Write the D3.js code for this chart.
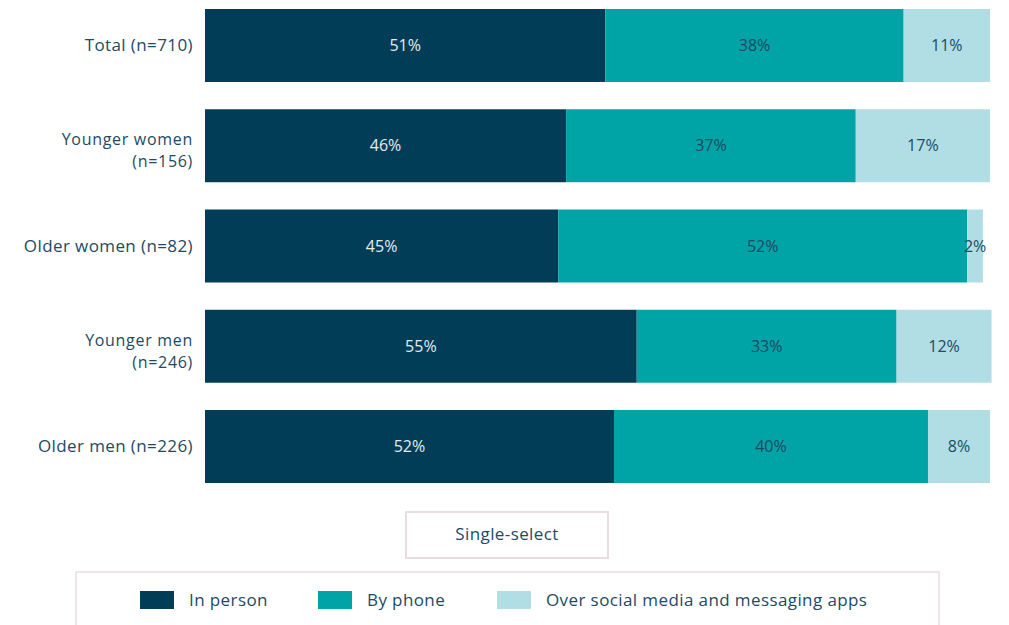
<!DOCTYPE html>
<html>
<head>
<meta charset="utf-8">
<script src="https://cdn.jsdelivr.net/npm/d3@7"></script>
<style>
  body { margin: 0; background: #fff; }
  text { font-family: "Open Sans", "Noto Sans", sans-serif; }
</style>
</head>
<body>
<div class="chart"></div>
<script>
var w = 1009;
var h = 625;

// categories (each line of the label is a separate string)
var categories = [
    ["Total (n=710)"],
    ["Younger women", "(n=156)"],
    ["Older women (n=82)"],
    ["Younger men", "(n=246)"],
    ["Older men (n=226)"]
];
var seriesNames = ["In person", "By phone", "Over social media and messaging apps"];
var inPerson = [51, 46, 45, 55, 52.1];
var byPhone  = [38, 36.9, 52.1, 33.1, 40];
var social   = [11, 17.1, 2, 12.1, 7.9];
var colors = ["#023d57", "#00a3a6", "#b0dee4"];
var footNote = "Single-select";

var data = categories.map(function(c, i) {
    return { key: i, "In person": inPerson[i], "By phone": byPhone[i],
             "Over social media and messaging apps": social[i] };
});

var svg = d3.select(".chart")
            .append("svg")
            .attr("width", w)
            .attr("height", h);

var x = d3.scaleLinear()
          .domain([0, 100])
          .range([205, 990]);

var y = d3.scaleBand()
          .domain(d3.range(categories.length))
          .range([9, 483])
          .paddingInner(0.272)
          .paddingOuter(0);

var color = d3.scaleOrdinal()
              .domain(seriesNames)
              .range(colors);

var stack = d3.stack().keys(seriesNames);
var series = stack(data);

var groups = svg.selectAll("g.series")
    .data(series)
    .enter()
    .append("g")
    .attr("class", "series")
    .attr("fill", function(d) { return color(d.key); });

groups.selectAll("rect")
    .data(function(d) { return d; })
    .enter()
    .append("rect")
    .attr("x", function(d) { return x(d[0]); })
    .attr("y", function(d, i) { return y(i); })
    .attr("width", function(d) { return x(d[1]) - x(d[0]); })
    .attr("height", y.bandwidth());

groups.selectAll("text")
    .data(function(d) { return d.map(function(v) { return { v: v, key: d.key }; }); })
    .enter()
    .append("text")
    .attr("x", function(d) { return (x(d.v[0]) + x(d.v[1])) / 2; })
    .attr("y", function(d, i) { return y(i) + y.bandwidth() / 2; })
    .attr("dy", "0.35em")
    .attr("text-anchor", "middle")
    .style("font-size", "16px")
    .style("fill", function(d) { return d.key == "In person" ? "#e3ebef" : "#1d4a64"; })
    .text(function(d) { return Math.round(d.v[1] - d.v[0]) + "%"; });

// category labels, one text per line
categories.forEach(function(lines, i) {
    var cy = y(i) + y.bandwidth() / 2;
    var start = cy - (lines.length - 1) * 6;
    lines.forEach(function(l, j) {
        svg.append("text")
           .attr("class", "cat")
           .attr("x", 193)
           .attr("y", start + j * 22)
           .attr("dy", "0.35em")
           .attr("text-anchor", "end")
           .style("font-size", lines.length > 1 ? "16px" : "17px")
           .style("letter-spacing", lines.length > 1 ? "0.7px" : "0.4px")
           .style("fill", "#1d4a64")
           .text(l);
    });
});

// single-select box
svg.append("rect")
    .attr("x", 406)
    .attr("y", 512)
    .attr("width", 202)
    .attr("height", 46)
    .attr("fill", "none")
    .attr("stroke", "#eadde1")
    .attr("stroke-width", 2);

svg.append("text")
    .attr("x", 507)
    .attr("y", 534)
    .attr("dy", "0.35em")
    .attr("text-anchor", "middle")
    .style("font-size", "17px")
    .style("letter-spacing", "0.4px")
    .style("fill", "#1d4a64")
    .text(footNote);

// legend box
svg.append("rect")
    .attr("x", 76)
    .attr("y", 572)
    .attr("width", 863)
    .attr("height", 70)
    .attr("fill", "none")
    .attr("stroke", "#eadde1")
    .attr("stroke-width", 1.5);

var legendX = [140, 318, 497];
var legend = svg.selectAll("g.legend")
    .data(seriesNames)
    .enter()
    .append("g")
    .attr("class", "legend")
    .attr("transform", function(d, i) { return "translate(" + legendX[i] + ",591)"; });

legend.append("rect")
    .attr("width", 34)
    .attr("height", 18)
    .attr("fill", function(d) { return color(d); });

legend.append("text")
    .attr("x", 49)
    .attr("y", 9)
    .attr("dy", "0.35em")
    .style("font-size", "17px")
    .style("letter-spacing", "0.4px")
    .style("fill", "#1d4a64")
    .text(function(d) { return d; });
</script>
</body>
</html>
